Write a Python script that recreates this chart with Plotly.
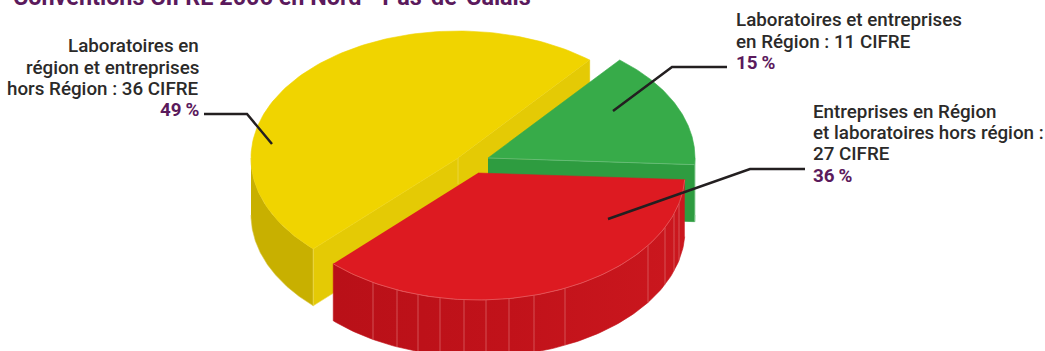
import numpy as np
import plotly.graph_objects as go

# Conventions CIFRE counts per partnership type
categories = [
    "Laboratoires et entreprises en Région",
    "Entreprises en Région et laboratoires hors région",
    "Laboratoires en région et entreprises hors Région",
]
cifre_counts = [11, 27, 36]
percent_labels = ["15\u2009%", "36\u2009%", "49\u2009%"]

TITLE = "Conventions CIFRE 2006 en Nord - Pas-de-Calais"
INK = "#2B2A29"
PURPLE = "#5B1A5C"
FONT = "Roboto"

# Projection of the disc
RX, RY, DEPTH = 207, 127, 57
START_DEG = 50.5
CENTERS = {"green": (488, 158), "red": (478, 173), "yellow": (458, 158)}

# Clockwise sweep of each slice, derived from the counts
total = sum(cifre_counts)
sweeps = [360.0 * c / total for c in cifre_counts]
green_span = (START_DEG, START_DEG - sweeps[0])
red_span = (green_span[1], green_span[1] - sweeps[1])
yellow_span = (red_span[1], red_span[1] - sweeps[2])

fig = go.Figure()


def arc(center, t0, t1, dy=0.0, n=120):
    t = np.radians(np.linspace(t0, t1, n))
    return center[0] + RX * np.cos(t), center[1] - RY * np.sin(t) + dy


def poly(x, y, fill, edge=None, width=0.6, gradient=None):
    kw = dict(fillgradient=gradient) if gradient else dict(fillcolor=fill)
    fig.add_trace(go.Scatter(
        x=list(x), y=list(y), mode="lines", fill="toself",
        line=dict(color=edge or fill, width=width), hoverinfo="skip", **kw))


def line(x, y, color, width):
    fig.add_trace(go.Scatter(
        x=list(x), y=list(y), mode="lines",
        line=dict(color=color, width=width), hoverinfo="skip"))


def rim(center, t0, t1, fill, edge=None, gradient=None):
    x, y = arc(center, t0, t1)
    xb, yb = arc(center, t1, t0, DEPTH)
    poly(np.r_[x, xb], np.r_[y, yb], fill, edge, gradient=gradient)


def cut_face(center, t, fill, edge=None):
    x, y = arc(center, t, t, n=1)
    cx, cy = center
    poly([cx, x[0], x[0], cx], [cy, y[0], y[0] + DEPTH, cy + DEPTH], fill, edge)


def top(center, t0, t1, fill, edge=None):
    x, y = arc(center, t0, t1)
    poly(np.r_[center[0], x], np.r_[center[1], y], fill, edge)


# Yellow slice: back-most
c = CENTERS["yellow"]
rim(c, 180, yellow_span[0] + 360, "#C8B000", "#D8C440")
cut_face(c, yellow_span[1] + 360, "#E4CA05")
cut_face(c, yellow_span[0] + 360, "#E4CA05", "#EEDB55")
line([c[0], c[0]], [c[1], c[1] + 26], "#EEDB55", 0.7)
top(c, yellow_span[0] + 360, yellow_span[1] + 360, "#F0D400")

# Green slice: middle
c = CENTERS["green"]
cut_face(c, green_span[1], "#2E9C40", "#2E9C40")
rim(c, 0, green_span[1], "#2E9C40", "#7FC88D")
top(c, green_span[0], green_span[1], "#37AB49")
x, y = arc(c, green_span[1], green_span[1], n=1)
line([c[0], x[0]], [c[1], y[0]], "#6DBF7C", 0.8)

# Red slice: front-most, with facet seams on its rim
c = CENTERS["red"]
rim(c, red_span[0], red_span[1], "#C2131A",
    gradient=dict(type="horizontal",
                  colorscale=[[0, "#B91018"], [0.5, "#C1121A"], [1, "#CB171E"]]))
seam_columns = [373, 397, 418, 440, 464, 486, 509, 534, 565, 648, 665, 674, 679]
for sx in seam_columns:
    dx = (sx - c[0]) / RX
    sy = c[1] + RY * np.sqrt(max(0.0, 1 - dx * dx))
    line([sx, sx], [sy, sy + DEPTH], "#DC6A6E", 0.7)
top(c, red_span[0], red_span[1], "#DD1A21")
x, y = arc(c, red_span[0], red_span[1])
line(x, y, "#E6686C", 0.7)

# Leader lines from the labels to the slices
line([204, 247, 272], [114, 114, 144], "#231F20", 2.5)
line([727, 672, 613], [67, 67, 111], "#231F20", 2.5)
line([805, 750, 608], [169, 169, 219], "#231F20", 2.5)


def label(x, y, text, anchor, color=INK, size=18.8, weight=500):
    shift = -2 if anchor == "left" else 2
    fig.add_annotation(
        x=x + shift, y=y + 0.7, text=text, xref="x", yref="y", xanchor=anchor,
        yanchor="middle", showarrow=False, align=anchor,
        font=dict(family=FONT, size=size, color=color, weight=weight))


for text, y in zip(["Laboratoires en", "région et entreprises",
                    f"hors Région : {cifre_counts[2]} CIFRE"], [45, 67, 88]):
    label(199, y, text, "right")
label(199, 109, percent_labels[2], "right", PURPLE, weight=700)

for text, y in zip(["Laboratoires et entreprises",
                    f"en Région : {cifre_counts[0]} CIFRE"], [19, 41]):
    label(736, y, text, "left")
label(736, 62, percent_labels[0], "left", PURPLE, weight=700)

for text, y in zip(["Entreprises en Région", "et laboratoires hors région :",
                    f"{cifre_counts[1]} CIFRE"], [111, 132, 153]):
    label(813, y, text, "left")
label(813, 175, percent_labels[1], "left", PURPLE, weight=700)

# Heading sits against the top edge, so it is placed relative to the page
fig.add_annotation(
    x=11 / 1045, y=1 + 3 / 351, xref="paper", yref="paper", xanchor="left",
    yanchor="middle", showarrow=False, text=TITLE,
    font=dict(family=FONT, size=23.4, color=PURPLE, weight=700))

fig.update_layout(
    width=1045, height=351, margin=dict(l=0, r=0, t=0, b=0),
    paper_bgcolor="white", plot_bgcolor="white", showlegend=False,
    xaxis=dict(range=[0, 1045], visible=False, fixedrange=True),
    yaxis=dict(range=[351, 0], visible=False, fixedrange=True),
)
fig.write_html("out.html", config=dict(displayModeBar=False))
